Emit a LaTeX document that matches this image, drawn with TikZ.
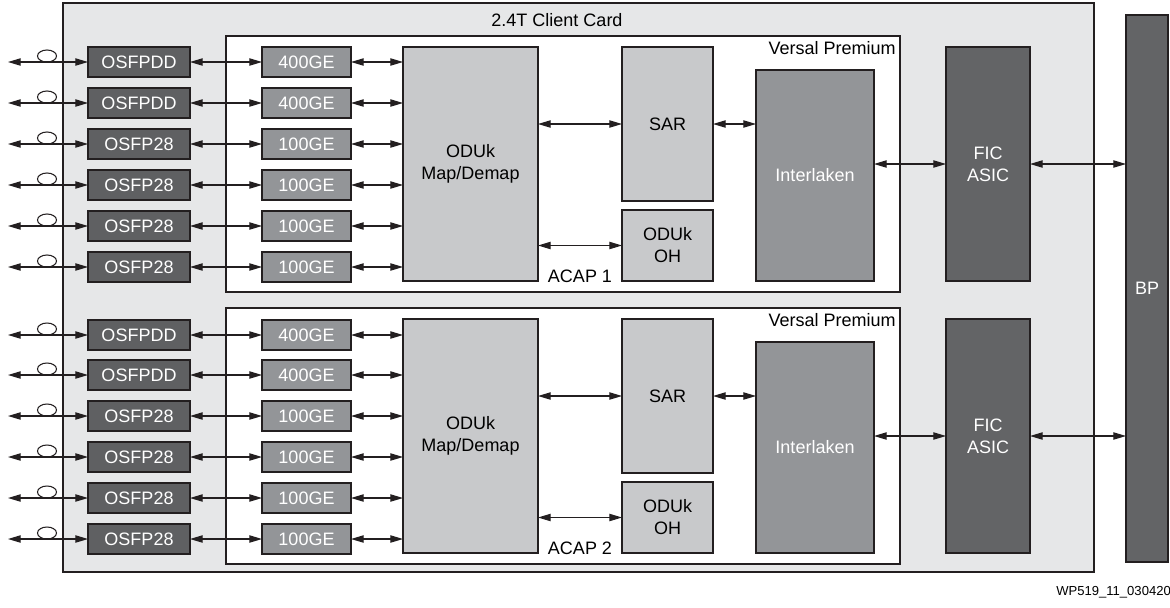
\documentclass[tikz,border=0pt]{standalone}
\usepackage{fontspec}
\setmainfont{Liberation Sans}
\usetikzlibrary{arrows.meta}
\definecolor{cardfill}{HTML}{E6E7E8}
\definecolor{darkfill}{HTML}{5F6062}
\definecolor{midfill}{HTML}{939598}
\definecolor{lightfill}{HTML}{C8C9CB}
\definecolor{ficfill}{HTML}{636466}
\definecolor{edge}{HTML}{231F20}
\tikzset{
  wh/.style 2 args={minimum width=#1*0.75pt, minimum height=#2*0.75pt},
  blk/.style={draw=edge, line width=1.6pt, inner sep=0pt, outer sep=0pt, align=center,
              font=\fontsize{13.5}{16.5}\selectfont},
  osfp/.style={blk, fill=darkfill, text=white, wh={102}{30}},
  ge/.style={blk, fill=midfill, text=white, wh={89}{30}},
  lightblk/.style={blk, fill=lightfill, text=black},
  ilk/.style={blk, fill=midfill, text=white},
  fic/.style={blk, fill=ficfill, text=white},
  frame/.style={draw=edge, line width=1.6pt},
  lbl/.style={font=\fontsize{13.5}{16.5}\selectfont, inner sep=0pt},
  biarrow/.style={draw=edge, line width=0.8pt, {Triangle[length=9.5pt,width=5.5pt]}-{Triangle[length=9.5pt,width=5.5pt]}},
  fiber/.style={draw=edge, line width=0.8pt}
}
\begin{document}
\begin{tikzpicture}[x=0.75pt,y=-0.75pt]
\useasboundingbox (0,0) rectangle (1170,607);
% card
\draw[frame, fill=cardfill] (63,3) rectangle (1094,572);
\node[lbl] (title) at (557,20) {2.4T Client Card};
% BP
\node[fic, wh={42}{547}] (bp) at (1147,288.5) {BP};
% two ACAP blocks
\foreach \k/\off in {1/0,2/272}{
  \draw[frame, fill=white] (226,36+\off) rectangle (900,292+\off);
  \node[lbl, anchor=east] (vp\k) at (896,48+\off) {Versal Premium};
  \node[lbl] (acap\k) at (580,276+\off) {ACAP \k};
  \node[lightblk, wh={135}{234}] (odu\k) at (470.5,164+\off) {ODUk\\Map/Demap};
  \node[lightblk, wh={91}{154}] (sar\k) at (667.5,124+\off) {SAR};
  \node[lightblk, wh={91}{71}] (oh\k) at (667.5,245.5+\off) {ODUk\\OH};
  \node[ilk, wh={118}{211}] (il\k) at (815,175.5+\off) {Interlaken};
  \node[fic, wh={84}{234}] (fic\k) at (988,164+\off) {FIC\\ASIC};
  \draw[biarrow] (odu\k.east |- sar\k.west) -- (sar\k.west);
  \draw[biarrow] (odu\k.east |- oh\k.west) -- (oh\k.west);
  \draw[biarrow] (sar\k.east) -- (sar\k.east -| il\k.west);
  \draw[biarrow] (fic\k.west -| il\k.east) -- (fic\k.west);
  \draw[biarrow] (fic\k.east) -- (fic\k.east -| bp.west);
}
% port rows
\foreach \i/\y/\m/\g in {1/62/OSFPDD/400GE, 2/103/OSFPDD/400GE, 3/144/OSFP28/100GE, 4/185/OSFP28/100GE, 5/226/OSFP28/100GE, 6/267/OSFP28/100GE,
                        7/335/OSFPDD/400GE, 8/375/OSFPDD/400GE, 9/416/OSFP28/100GE, 10/457/OSFP28/100GE, 11/498/OSFP28/100GE, 12/539/OSFP28/100GE}{
  \node[osfp] (m\i) at (139,\y) {\m};
  \node[ge] (g\i) at (306.5,\y) {\g};
  \coordinate (fe\i) at (8,\y);
  \draw[biarrow] (fe\i) -- (m\i.west);
  \draw[fiber] (47,\y-6) ellipse [x radius=9.5, y radius=6];
  \draw[biarrow] (m\i.east) -- (g\i.west);
}
\foreach \i in {1,...,6}{
  \draw[biarrow] (g\i.east) -- (g\i.east -| odu1.west);
}
\foreach \i in {7,...,12}{
  \draw[biarrow] (g\i.east) -- (g\i.east -| odu2.west);
}
\node[font=\fontsize{9.8}{11}\selectfont, anchor=west, inner sep=0pt] (wp) at (1056,592) {WP519\_11\_030420};
\end{tikzpicture}
\end{document}
